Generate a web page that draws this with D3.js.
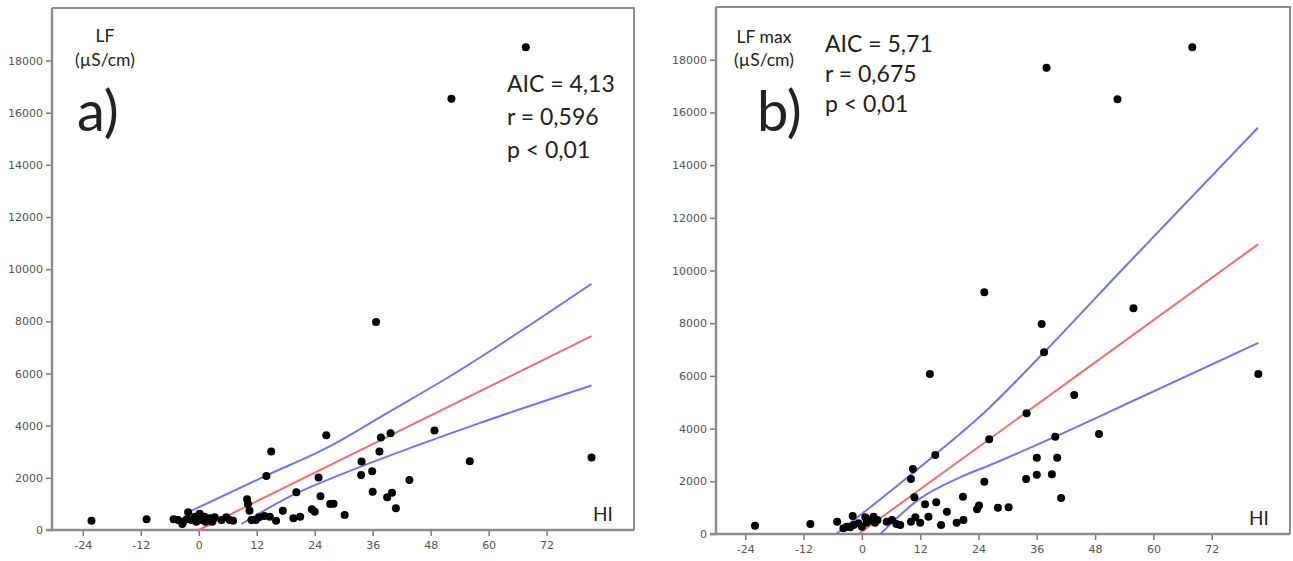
<!DOCTYPE html>
<html>
<head>
<meta charset="utf-8">
<script src="https://cdn.jsdelivr.net/npm/d3@7"></script>
<style>
  html, body { margin: 0; padding: 0; background: #fff; }
  svg { display: block; }
  .tick text { font-family: "DejaVu Sans", sans-serif; font-size: 11px; fill: #555; }
  .ann { font-family: Lato, "Open Sans", sans-serif; fill: #222; }
</style>
</head>
<body>
<svg id="chart" width="1293" height="561"></svg>
<script>
// ---- shared tick labels ----
const xTicks = [-24, -12, 0, 12, 24, 36, 48, 60, 72];
const yTicks = [0, 2000, 4000, 6000, 8000, 10000, 12000, 14000, 16000, 18000];

// ---- panel a: LF vs HI ----
const hiA = [-22.2, -10.8, -5.2, -4.3, -3.4, -3.2, -2.5, -2.2, -1.5, -0.8, -0.5, 0.2, 0.6, 1.2, 1.4, 2.3, 2.8, 3.3, 4.7, 5.7, 6.4, 7.1,
  10.0, 10.2, 10.5, 10.9, 11.8, 12.5, 13.6, 14.0, 14.7, 15.0, 16.0, 17.4, 19.6, 20.2, 21.0, 23.4, 24.0, 24.8, 25.2, 26.4, 27.2, 27.9,
  30.2, 33.6, 33.7, 35.9, 36.0, 36.7, 37.4, 37.7, 39.0, 39.7, 40.0, 40.8, 43.6, 48.8, 52.3, 56.1, 67.7, 81.3];
const lfA = [357, 410, 410, 384, 230, 319, 410, 680, 384, 511, 319, 620, 384, 511, 319, 449, 319, 488, 384, 488, 384, 357,
  1178, 998, 741, 384, 384, 488, 537, 2073, 511, 3006, 357, 741, 449, 1447, 511, 794, 703, 2008, 1290, 3630, 998, 1010,
  576, 2111, 2622, 2253, 1470, 7974, 3006, 3544, 1255, 3712, 1432, 833, 1920, 3812, 16535, 2637, 18504, 2776];

// regression line and confidence band, panel a
const fitHiA = [0, 81.3];
const fitA = [0, 7430];
const upHiA = [-1.5, 14, 27, 39.5, 50.8, 81.3];
const upA = [741, 2090, 3200, 4540, 5760, 9440];
const loHiA = [8.8, 20.9, 26.4, 58.1, 81.3];
const loA = [230, 1470, 1900, 4096, 5540];

// ---- panel b: LF max vs HI ----
const hiB = [-22.0, -10.6, -5.1, -3.8, -3.1, -2.4, -1.9, -1.7, -0.7, 0, 0.7, 1.0, 1.7, 2.4, 2.7, 3.2, 5.1, 6.2, 7.1, 7.9,
  10.1, 10.5, 10.8, 10.1, 11.0, 12.0, 13.0, 13.7, 14.0, 15.1, 15.3, 16.3, 17.5, 19.5, 20.8, 20.9, 23.7, 24.1,
  25.2, 25.2, 26.2, 28.0, 30.2, 33.8, 33.9, 36.0, 36.0, 37.0, 37.5, 38.0, 39.1, 39.8, 40.2, 41.0, 43.7, 48.8, 52.6, 55.9, 68.0, 81.6];
const lfB = [315, 380, 467, 216, 277, 254, 683, 342, 406, 277, 633, 430, 531, 657, 430, 531, 467, 531, 380, 342,
  2087, 2467, 1393, 467, 633, 430, 1127, 657, 6072, 2998, 1203, 342, 846, 430, 1416, 531, 940, 1080,
  1985, 9172, 3594, 998, 1013, 2087, 4580, 2896, 2250, 7970, 6896, 17697, 2265, 3693, 2896, 1366, 5275, 3795, 16497, 8565, 18470, 6072];

// regression line and confidence band, panel b
const fitHiB = [-0.7, 81.6];
const fitB = [0, 11000];
const upHiB = [-5.3, 15, 25.7, 37.5, 53.5, 81.5];
const upB = [0, 3000, 4700, 6896, 10019, 15419];
const loHiB = [3.8, 12, 20.2, 26.4, 39.8, 56.2, 81.6];
const loB = [0, 1350, 2150, 2619, 3693, 5085, 7250];

const panels = [
  {
    frame: { left: 52, top: 8, right: 634, bottom: 530 },
    xRange: [82.8, 546.6], yRange: [530, 60.5],
    hi: hiA, lf: lfA,
    fit: [fitHiA, fitA], up: [upHiA, upA], lo: [loHiA, loA],
    unit: ["LF", "(µS/cm)"], unitX: 105, unitY: [42, 66],
    tag: "a)", tagX: 77, tagY: 131,
    stats: ["AIC = 4,13", "r = 0,596", "p < 0,01"], statsX: 507, statsY: 92, statsDy: 33
  },
  {
    frame: { left: 716, top: 7, right: 1290, bottom: 534 },
    xRange: [745.3, 1211.7], yRange: [534, 59.7],
    hi: hiB, lf: lfB,
    fit: [fitHiB, fitB], up: [upHiB, upB], lo: [loHiB, loB],
    unit: ["LF max", "(µS/cm)"], unitX: 764, unitY: [43, 66],
    tag: "b)", tagX: 757, tagY: 131,
    stats: ["AIC = 5,71", "r = 0,675", "p < 0,01"], statsX: 825, statsY: 52, statsDy: 30
  }
];

const svg = d3.select("#chart");
const frameColor = "#8d8d8d";
const blue = "#7373f2";
const red = "#f26d6d";
const fmt = d => (d < 0 ? "-" : "") + Math.abs(d);

panels.forEach(p => {
  const x = d3.scaleLinear().domain([-24, 72]).range(p.xRange);
  const y = d3.scaleLinear().domain([0, 18000]).range(p.yRange);
  const g = svg.append("g");
  const f = p.frame;

  // top and right border of the plot box
  g.append("path")
    .attr("d", `M${f.left},${f.top}H${f.right}V${f.bottom}`)
    .attr("fill", "none").attr("stroke", frameColor).attr("stroke-width", 2);

  // axes
  const xAxis = d3.axisBottom(x).tickValues(xTicks).tickFormat(fmt).tickSize(6).tickPadding(5).tickSizeOuter(0);
  const yAxis = d3.axisLeft(y).tickValues(yTicks).tickFormat(fmt).tickSize(6).tickPadding(3).tickSizeOuter(0);

  const gx = g.append("g").attr("transform", `translate(0,${y(0)})`).call(xAxis);
  const gy = g.append("g").attr("transform", `translate(${f.left},0)`).call(yAxis);
  [gx, gy].forEach(a => {
    a.select(".domain").remove();
    a.selectAll(".tick line").attr("stroke", "#7a7a7a").attr("stroke-width", 1.5);
  });

  g.append("line").attr("x1", f.left - 6).attr("x2", f.right).attr("y1", y(0)).attr("y2", y(0))
    .attr("stroke", frameColor).attr("stroke-width", 2.5);
  g.append("line").attr("x1", f.left).attr("x2", f.left).attr("y1", f.top).attr("y2", y(0))
    .attr("stroke", frameColor).attr("stroke-width", 2.5);

  // regression line and confidence band
  const line = d3.line().x(d => x(d[0])).y(d => y(d[1])).curve(d3.curveMonotoneX);
  const toPts = pair => pair[0].map((h, i) => [h, pair[1][i]]);
  [[p.up, blue], [p.lo, blue], [p.fit, red]].forEach(([pair, c]) => {
    g.append("path").datum(toPts(pair)).attr("d", line)
      .attr("fill", "none").attr("stroke", c).attr("stroke-width", 2);
  });

  // observations
  g.append("g").selectAll("circle")
    .data(p.hi.map((h, i) => [h, p.lf[i]]))
    .join("circle")
    .attr("cx", d => x(d[0])).attr("cy", d => y(d[1])).attr("r", 4)
    .attr("fill", "#000");

  // labels
  g.selectAll("text.unit").data(p.unit).join("text").attr("class", "ann unit")
    .attr("x", p.unitX).attr("y", (d, i) => p.unitY[i])
    .attr("text-anchor", "middle").attr("font-size", 17.5).attr("fill", "#333").text(d => d);

  g.append("text").attr("class", "ann").attr("x", p.tagX).attr("y", p.tagY)
    .attr("font-size", 56).attr("fill", "#000").text(p.tag);

  g.selectAll("text.stat").data(p.stats).join("text").attr("class", "ann stat")
    .attr("x", p.statsX).attr("y", (d, i) => p.statsY + i * p.statsDy)
    .attr("font-size", 23).text(d => d);

  g.append("text").attr("class", "ann").attr("x", f.right - 41).attr("y", y(0) - 9)
    .attr("font-size", 19).attr("fill", "#444").text("HI");
});
</script>
</body>
</html>
